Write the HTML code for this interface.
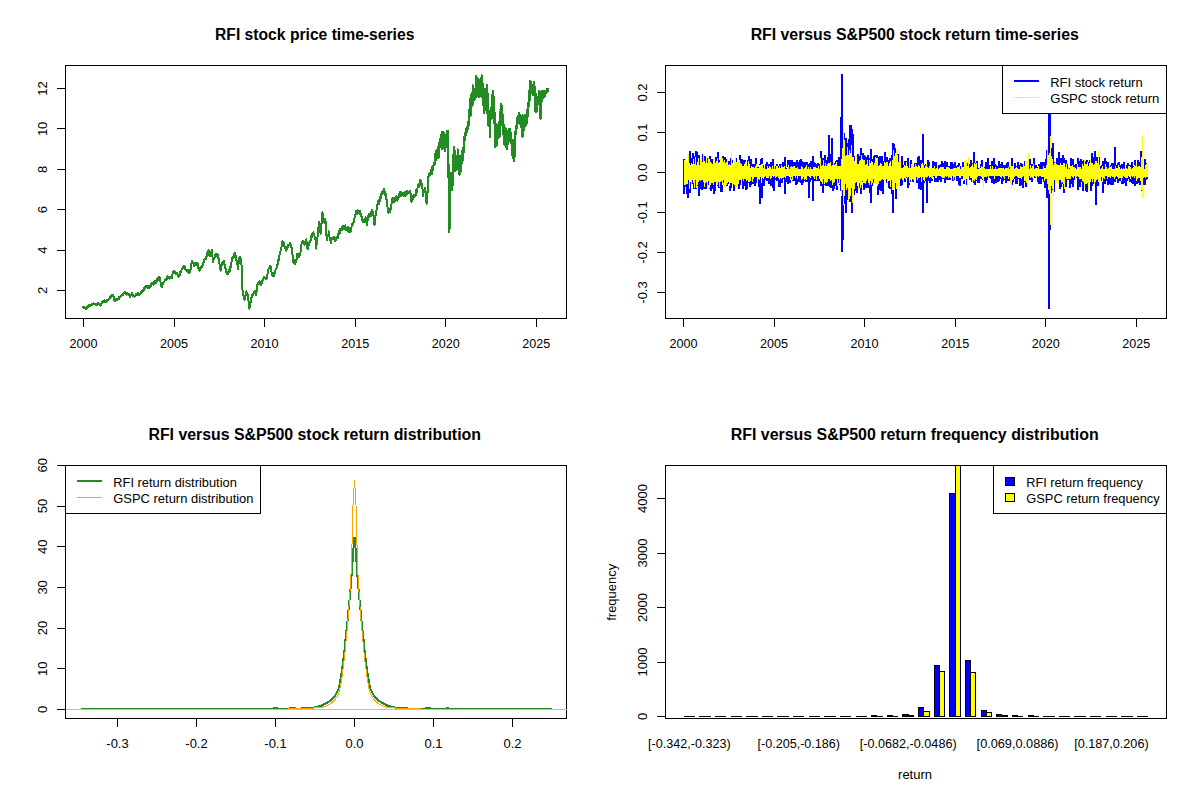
<!DOCTYPE html>
<html><head><meta charset="utf-8"><title>RFI plots</title>
<style>html,body{margin:0;padding:0;background:#fff;overflow:hidden}svg{display:block}text{font-family:"Liberation Sans",sans-serif}</style></head>
<body>
<svg width="1200" height="800" viewBox="0 0 1200 800" font-family="'Liberation Sans', sans-serif" fill="#000" shape-rendering="crispEdges">
<rect width="1200" height="800" fill="#fff"/>
<path d="M82.5 307.5L82.85 306.96L83.19 306.75L83.54 307.76L83.89 308.4L84.24 307.89L84.58 308.14L84.93 307.3L85.28 308.36L85.62 308.5L85.97 309.13L86.31 308.68L86.65 308.18L86.99 306.66L87.33 308L87.67 307.67L88.01 305.98L88.35 306.68L88.69 305.15L89.03 305.08L89.38 305.62L89.73 305.11L90.08 304.64L90.43 305.77L90.78 305.77L91.13 304.63L91.48 304.44L91.84 303.87L92.19 303.67L92.54 304.89L92.89 304.51L93.24 303.21L93.59 303.99L93.95 303.69L94.3 304.52L94.65 304.11L95 303.5L95.35 303.8L95.7 303.77L96.05 304.71L96.41 304.87L96.76 303.54L97.11 303.41L97.46 304.69L97.81 303.19L98.16 303.91L98.52 303.36L98.87 303.97L99.22 303.52L99.57 304.07L99.92 305.21L100.27 305.54L100.62 304.75L101 304.8L101.38 303.73L101.75 303.28L102.12 302.14L102.5 301.88L102.86 301.03L103.23 301.52L103.59 302.09L103.96 300.48L104.32 300.27L104.69 301.86L105.05 300.69L105.42 301.5L105.78 301.47L106.15 301.82L106.51 300.5L106.88 300.62L107.24 299.88L107.6 300.5L107.97 299.99L108.33 299.32L108.7 299.27L109.06 298.46L109.43 298.8L109.79 296.89L110.16 297.45L110.52 297.55L110.89 295.64L111.25 295.62L111.62 295.9L112 295.29L112.38 295.53L112.75 294.58L113.12 295.62L113.54 296.14L113.96 299.57L114.38 300.62L114.73 300.32L115.08 300.52L115.43 300.59L115.78 299.66L116.13 299.34L116.48 298.68L116.84 299.94L117.19 299.84L117.54 299.42L117.89 299.55L118.24 298.83L118.59 298.74L118.95 297.36L119.3 298.53L119.65 297.3L120 297.5L120.36 296.9L120.71 296.17L121.07 296.33L121.43 296.1L121.79 295.45L122.14 294.37L122.5 294.38L122.86 293.49L123.21 294.89L123.57 293.34L123.93 293.5L124.29 292.45L124.64 292.8L125 293.12L125.36 292.12L125.73 292.83L126.09 293.81L126.46 294.54L126.82 293.7L127.19 292.85L127.55 293.89L127.92 293.86L128.28 294.42L128.65 293.73L129.01 294.74L129.38 293.75L130 297.5L130.38 296.42L130.75 295.23L131.12 294.92L131.5 295.06L131.88 293.12L132.25 294.36L132.62 294.46L133 295.14L133.38 296.19L133.75 296.5L134.11 296.02L134.46 295.91L134.82 296.59L135.18 296.14L135.54 295.56L135.89 293.42L136.25 294L136.61 294.1L136.98 293.58L137.34 294.91L137.71 293.36L138.07 294.88L138.44 293.09L138.8 293.51L139.17 294.83L139.53 293.87L139.9 294.68L140.26 293.64L140.62 293.5L140.98 292.35L141.33 293.14L141.68 292.2L142.03 291.7L142.38 290.28L142.73 289.85L143.09 291.46L143.44 291.09L143.79 290.67L144.14 288.59L144.49 287.28L144.84 288.21L145.2 288.26L145.55 287.56L145.9 285.46L146.25 286.25L146.61 285.68L146.96 287.18L147.32 285.55L147.68 287.92L148.04 288.49L148.39 286.63L148.75 287.5L149.1 285.92L149.44 288.14L149.79 287.2L150.14 285.98L150.49 285.7L150.83 286.59L151.18 284.66L151.53 283.45L151.88 284.38L152.22 284.49L152.57 283.42L152.92 284.27L153.26 284.84L153.61 282.93L153.96 282.39L154.31 281.62L154.65 283.68L155 282.5L155.36 280.87L155.71 283.05L156.07 281.93L156.43 282.16L156.79 281.48L157.14 279.21L157.5 279.75L157.88 278.19L158.25 280.01L158.62 277.38L159 278.35L159.38 276.88L159.73 277.38L160.09 279.3L160.45 281.94L160.8 282.21L161.16 285.18L161.52 287.04L161.88 287.5L162.22 286.1L162.57 285.13L162.92 283.45L163.26 283.67L163.61 281.72L163.96 282.3L164.31 281.74L164.65 280.48L165 279.38L165.36 279.42L165.71 279.14L166.07 279.81L166.43 278.4L166.79 279.15L167.14 277.31L167.5 277.5L167.84 276.41L168.18 276.68L168.52 278.48L168.86 276.75L169.2 278.46L169.55 278.88L169.89 277.8L170.23 276.58L170.57 278.09L170.91 277.35L171.25 277.75L171.61 278.1L171.96 275.02L172.32 274.12L172.68 273.98L173.04 273.09L173.39 271.15L173.75 271.25L174.12 271.33L174.5 272.8L174.88 272.65L175.25 271.82L175.62 273.75L175.97 273.68L176.32 273.9L176.67 274.21L177.01 273.06L177.36 274.07L177.71 276.44L178.06 276.43L178.4 276.82L178.75 275.62L179.11 275.78L179.46 274.07L179.82 275.03L180.18 272.3L180.54 272.58L180.89 271.9L181.25 270.74L181.61 269.43L181.96 269.02L182.32 269.42L182.68 267.52L183.04 267.06L183.39 266.41L183.75 266.25L184.11 266.18L184.46 268.46L184.82 268.01L185.18 266.74L185.54 269.75L185.89 269.47L186.25 270L186.59 271.17L186.93 270.44L187.27 270.05L187.61 272.04L187.95 270.05L188.3 270.63L188.64 271.54L188.98 273.01L189.32 270.78L189.66 271.74L190 272.5L190.38 270.23L190.75 268.37L191.12 263.98L191.5 263.92L191.88 260.62L192.25 261.71L192.62 262.44L193 262.82L193.38 263.46L193.75 265L194.1 266.18L194.44 266.34L194.79 263.22L195.14 263.13L195.49 264.56L195.83 264.7L196.18 264.7L196.53 262.62L196.88 263.12L197.23 263.16L197.59 263.76L197.95 265.91L198.3 267.63L198.66 269.76L199.02 267.97L199.38 270.62L199.72 268.76L200.07 270.17L200.42 269.75L200.76 267.4L201.11 266.81L201.46 266.08L201.81 267.74L202.15 265.97L202.5 266.25L202.86 264.35L203.21 264.87L203.57 261.94L203.93 262.45L204.29 259.83L204.64 258.74L205 259.38L205.34 259.27L205.68 259.01L206.02 257.02L206.36 256.04L206.7 256.46L207.05 253.29L207.39 253.33L207.73 255.07L208.07 254.52L208.41 250.14L208.75 251.25L209.17 250.94L209.58 255.63L210 256.25L210.38 254.81L210.75 254.79L211.12 253.07L211.5 251.04L211.88 250L212.29 254.99L212.71 258.73L213.12 262.5L213.5 259.09L213.88 259.12L214.25 259.08L214.62 257.08L215 254.38L215.36 254.98L215.71 254.85L216.07 255.62L216.43 253.56L216.79 253.96L217.14 254.89L217.5 254.38L217.86 257.49L218.21 257.45L218.57 258.76L218.93 261.04L219.29 263.53L219.64 264.21L220 267.5L220.62 270.62L221.25 265L221.61 264.83L221.96 265.17L222.32 262.55L222.68 264.16L223.04 261.58L223.39 261.38L223.75 260.62L223.75 260.62L224.12 263.99L224.5 264.63L224.88 265.52L225.25 268.01L225.62 268.75L226.04 270.33L226.46 272.81L226.88 273.75L227.29 272.85L227.71 272.38L228.12 273.75L228.48 273.18L228.84 272.04L229.2 270.94L229.55 268.89L229.91 270.76L230.27 267.06L230.62 267.5L231 267.15L231.38 262.84L231.75 260.7L232.12 261.15L232.5 257.5L232.86 258.64L233.21 257.02L233.57 257.39L233.93 253.73L234.29 255.78L234.64 254.22L235 253.12L235.38 253.95L235.75 256.75L236.12 256.52L236.5 260.72L236.88 261.25L237.29 264.26L237.71 264.87L238.12 268.75L238.54 264.01L238.96 260.48L239.38 257.5L239.79 257.61L240.21 256.89L240.62 258.12L241.04 260.5L241.46 264.56L241.88 267.5L242.5 290L242.88 291.09L243.25 294.64L243.62 295.88L244 297.78L244.38 300L244.75 298.42L245.12 295.67L245.5 295.72L245.88 292.02L246.25 291.25L246.62 292.37L247 294.43L247.38 293.35L247.75 295.74L248.12 296.25L248.54 301.5L248.96 305.64L249.38 308.75L249.75 306.18L250.12 304.52L250.5 302.99L250.88 300.04L251.25 297.5L251.6 297.71L251.94 296.59L252.29 294.28L252.64 294.34L252.99 295.02L253.33 293.25L253.68 292.47L254.03 291.44L254.38 291.25L254.75 291.12L255.12 293.18L255.5 293.23L255.88 295.21L256.25 295L256.67 290.27L257.08 288.94L257.5 284.38L257.88 282.58L258.25 284.06L258.62 282.38L259 282.58L259.38 281.25L259.75 281.86L260.12 281.75L260.5 284.8L260.88 284.66L261.25 285L261.61 283.11L261.96 283.14L262.32 280.93L262.68 280.42L263.04 279.93L263.39 278.91L263.75 277.5L264.1 276.42L264.44 276.83L264.79 277.79L265.14 278.11L265.49 279.29L265.83 278.57L266.18 279.43L266.53 278.21L266.88 278.75L267.25 275.52L267.62 273.54L268 270.43L268.38 269.29L268.75 267.5L269.12 267.72L269.5 268.19L269.88 265.83L270.25 267.22L270.62 266.25L271.04 269.61L271.46 271.89L271.88 273.75L272.25 275.74L272.62 275.01L273 275.07L273.38 275.87L273.75 276.25L274.11 273.6L274.46 272.52L274.82 273.01L275.18 271.56L275.54 269.67L275.89 269.33L276.25 268.75L276.61 267.81L276.96 265.97L277.32 264.09L277.68 264.01L278.04 259.97L278.39 261.62L278.75 258.75L279.12 257.69L279.5 254.94L279.88 254.26L280.25 253.52L280.62 250L281 248.89L281.38 247.21L281.75 245.61L282.12 244.8L282.5 241.25L282.88 243.95L283.25 242.3L283.62 242.2L284 244.31L284.38 246.25L284.79 246.93L285.21 247.71L285.62 250L285.98 249.29L286.34 250.73L286.7 247.11L287.05 247.36L287.41 248.71L287.77 245.24L288.12 246.25L288.5 244.87L288.88 244.97L289.25 245.16L289.62 244.81L290 242.5L290.38 242.95L290.75 247.42L291.12 246.73L291.5 246.97L291.88 250L292.29 252.4L292.71 257.26L293.12 261.25L293.48 262.66L293.84 260.21L294.2 261.02L294.55 263.42L294.91 263.76L295.27 261.77L295.62 263.12L296 259.62L296.38 259.95L296.75 258.62L297.12 253.88L297.5 253.75L297.88 254.59L298.25 253.85L298.62 256.39L299 255.26L299.38 257.5L299.75 253.82L300.12 253.16L300.5 252.56L300.88 246.55L301.25 246.25L301.67 242.87L302.08 241.62L302.5 241.25L302.86 242.99L303.21 240.83L303.57 241.33L303.93 242.37L304.29 244.58L304.64 242.44L305 243.75L305.42 242.17L305.83 240.72L306.25 239.38L306.67 242.71L307.08 245.81L307.5 249.38L307.86 249.48L308.21 245.8L308.57 245.91L308.93 243.16L309.29 245.17L309.64 242.08L310 241.25L310.38 242.21L310.75 239.48L311.12 236.16L311.5 238.19L311.88 235L312.25 233.79L312.62 235.14L313 235.48L313.38 232.15L313.75 233.75L314.12 233.54L314.5 235.91L314.88 236.86L315.25 237.92L315.62 240L316.25 248.75L316.62 244.02L317 240.64L317.38 239.68L317.75 233.56L318.12 230L318.54 227.09L318.96 223.34L319.38 221.88L319.79 224.3L320.21 228.63L320.62 233.75L321 231.36L321.38 227.17L321.75 219.32L322.12 216.21L322.5 212.5L323.12 221.25L323.48 221.66L323.84 221.52L324.2 219.72L324.55 219.01L324.91 222.77L325.27 219.36L325.62 221.25L326.04 227L326.46 234.97L326.88 240L327.25 239.08L327.62 236.08L328 236.13L328.38 235.31L328.75 231.25L329.12 233.28L329.5 237.27L329.88 237.72L330.25 239.25L330.62 241.88L330.98 243.4L331.34 241.83L331.7 238.38L332.05 239.56L332.41 238.21L332.77 238.1L333.12 237.5L333.47 238.93L333.82 237.32L334.17 238.79L334.51 237.44L334.86 238.63L335.21 240.91L335.56 240.5L335.9 239.11L336.25 240L336.61 238.03L336.96 238.5L337.32 236.94L337.68 238.3L338.04 234.15L338.39 236.06L338.75 233.12L339.11 231.25L339.46 233.3L339.82 232.99L340.18 229.14L340.54 229.73L340.89 230.39L341.25 228.75L341.59 228.21L341.93 226.62L342.27 229.71L342.61 228.23L342.95 226.65L343.3 225.89L343.64 228.06L343.98 226.83L344.32 229.26L344.66 225.94L345 227.5L345.36 225.32L345.71 229.84L346.07 227.64L346.43 229.93L346.79 228.73L347.14 230.42L347.5 230.87L347.86 226.92L348.21 228.04L348.57 227.76L348.93 231.66L349.29 230.58L349.64 231.87L350 230L350.62 231.88L351.04 231.51L351.46 227.89L351.88 223.75L352.25 225.13L352.62 224.98L353 222.8L353.38 223.38L353.75 221.25L354.12 222.08L354.5 217.85L354.88 214.88L355.25 215.63L355.62 213.12L355.98 210.63L356.34 211.92L356.7 212.19L357.05 214.42L357.41 210.1L357.77 211.62L358.12 212.5L358.5 211.2L358.88 212.88L359.25 213.79L359.62 211.39L360 211.25L360.38 214.61L360.75 213.83L361.12 215.76L361.5 216.31L361.88 218.75L362.23 217.71L362.59 221.84L362.95 220.88L363.3 219.71L363.66 221.63L364.02 221.48L364.38 222.5L364.79 218.46L365.21 220.19L365.62 217.5L366.04 221.9L366.46 223.05L366.88 225L367.25 221.22L367.62 220.59L368 217.46L368.38 215.27L368.75 215L369.11 213.72L369.46 216.76L369.82 216.3L370.18 215.86L370.54 216.4L370.89 211.82L371.25 213.75L371.62 211.86L372 210.53L372.38 209.94L372.75 213.02L373.12 211.88L373.54 215.77L373.96 220.96L374.38 225L374.79 223.55L375.21 217.22L375.62 215L376 211.37L376.38 212.26L376.75 205.6L377.12 208.41L377.5 203.75L377.86 202.51L378.21 200.35L378.57 201.04L378.93 199.9L379.29 203.96L379.64 199.03L380 201.25L380.38 196.75L380.75 198.18L381.12 193.88L381.5 192.74L381.88 191.88L382.23 193.64L382.59 191.42L382.95 193.29L383.3 190.53L383.66 189.6L384.02 189.22L384.38 191.88L384.73 195.1L385.09 191.9L385.45 192.82L385.8 194.46L386.16 197.81L386.52 199.95L386.88 200L387.29 204.13L387.71 209.01L388.12 212.5L388.48 211.95L388.84 212.76L389.2 211.46L389.55 208.58L389.91 208.92L390.27 212.02L390.62 208.75L391.04 205.96L391.46 204.77L391.88 201.25L392.22 199.06L392.57 201.72L392.92 201.58L393.26 198.15L393.61 202.45L393.96 198.96L394.31 198.4L394.65 200.08L395 198.75L395.35 201.23L395.69 200.75L396.04 199.12L396.39 196.12L396.74 198.67L397.08 199.46L397.43 200.74L397.78 196.99L398.12 198.75L398.5 197.55L398.88 197.59L399.25 196.88L399.62 192L400 193.75L400.36 196.13L400.71 191.58L401.07 196.17L401.43 196.32L401.79 194.88L402.14 194.53L402.5 194.38L402.86 193.24L403.21 193.25L403.57 196.27L403.93 194.44L404.29 193.04L404.64 192.17L405 195.84L405.36 195.26L405.71 194.97L406.07 194.76L406.43 191.04L406.79 193.75L407.14 192.64L407.5 191.25L407.86 193.71L408.21 192.53L408.57 193.04L408.93 192.75L409.29 191.29L409.64 191.93L410 190.62L410.42 191.38L410.83 196.6L411.25 200.62L411.61 201.96L411.96 197.34L412.32 198.28L412.68 199.59L413.04 198.1L413.39 195.41L413.75 197.5L414.11 194.59L414.48 196.62L414.84 194.98L415.21 194.29L415.57 195.3L415.94 194.54L416.3 189.66L416.67 192.4L417.03 189.21L417.4 189.02L417.76 184.67L418.12 186.25L418.48 184.73L418.84 187.34L419.2 186.4L419.55 182.13L419.91 180.13L420.27 183.9L420.62 180L421.04 181.26L421.46 185.4L421.88 183.75L422.29 184.99L422.71 192.66L423.12 196.25L423.5 193.18L423.88 189.71L424.25 190.93L424.62 192.05L425 187.5L425.38 190.49L425.75 192.26L426.12 198.44L426.5 202.7L426.88 203.75L427.31 197.19L427.75 187.5L428.25 178.99L428.75 173.75L429.15 175.76L429.55 173.99L429.9 175.53L430.24 173.03L430.58 174.7L430.93 169.44L431.27 170.25L431.62 171.15L431.96 174.52L430 173.76L430 175.4L430.5 172.79L430.5 172.28L431 171.05L431 173.76L431.5 170.82L431.5 170.41L432 166.37L432 170.5L432.5 171.38L432.5 165.6L433 165.49L433 168.88L433.5 164.81L433.5 162.69L434 162.64L434 164.68L434.5 165.4L434.5 157.82L435 154.16L435 160.79L435.5 160.91L435.5 152.11L436 151.05L436 157.97L436.5 157.33L436.5 150.25L437 150.64L437 156.69L437.5 153.76L437.5 149.11L438 147.07L438 157.77L438.5 157.89L438.5 143.13L439 144.07L439 156.53L439.5 145.59L439.5 139.07L440 139.14L440 144.55L440.5 145.66L440.5 136.94L441 135.22L441 147.04L441.5 144.64L441.5 134.77L442 131.7L442 148.72L442.5 147.7L442.5 131.7L443 131.7L443 143.12L443.5 143.37L443.5 131.7L444 139.65L444 146.2L444.5 148.46L444.5 141.59L445 140.96L445 151.15L445.5 148.13L445.5 142.38L446 135.29L446 141.61L446.5 141.85L446.5 132.84L447 130.5L447 145.58L447.5 140.35L447.5 130.5L448 130.5L448 144.07L448.5 178.32L448.5 163.89L449 187.49L449 231.7L449.5 228.96L449.5 186.17L450 183.01L450 197.34L450.5 187.83L450.5 182.05L451 172.94L451 189.67L451.5 189.45L451.5 180.16L452 175.41L452 190.14L452.5 185.51L452.5 159.5L453 155.28L453 175.16L453.5 172.02L453.5 159.74L454 147.04L454 170.6L454.5 168.32L454.5 149.71L455 161.77L455 162.39L455.5 171.4L455.5 157.32L456 155.95L456 165.69L456.5 169.27L456.5 157.35L457 158.82L457 160.32L457.5 164.21L457.5 148.6L458 152.79L458 165.59L458.5 169.65L458.5 156.59L459 155.77L459 167.45L459.5 175.4L459.5 165.58L460 160.52L460 172.36L460.5 171.57L460.5 156.06L461 160.49L461 169.57L461.5 163.66L461.5 150.9L462 154.05L462 163.14L462.5 160.55L462.5 147.69L463 151.76L463 158.36L463.5 152.67L463.5 142.95L464 137.03L464 147.25L464.5 138.56L464.5 133.22L465 134.12L465 139.8L465.5 135.57L465.5 129.36L466 130.35L466 132.2L466.5 133L466.5 129.87L467 127.03L467 129L467.5 129.18L467.5 126.1L468 121.74L468 129.37L468.5 126.12L468.5 116.05L469 109.94L469 116.68L469.5 113.3L469.5 103.01L470 99.28L470 113.35L470.5 116.24L470.5 103.75L471 94.8L471 103.01L471.5 101.9L471.5 98.23L472 92.59L472 105.73L472.5 104.35L472.5 85.47L473 95.62L473 104.32L473.5 98.3L473.5 98.12L474 97.37L474 98.76L474.5 99.54L474.5 90.76L475 88.87L475 95.4L475.5 97.3L475.5 80.78L476 75.97L476 96.81L476.5 96.55L476.5 82.64L477 83.44L477 93.95L477.5 92.57L477.5 78.44L478 84.96L478 86.93L478.5 97.11L478.5 78.92L479 80.05L479 97.28L479.5 97.24L479.5 80.79L480 80.26L480 95.41L480.5 95.71L480.5 78.11L481 80.11L481 84.92L481.5 94.29L481.5 75.01L482 82.19L482 91.38L482.5 97.69L482.5 82.83L483 95.36L483 103.5L483.5 105.73L483.5 92.85L484 100L484 113.36L484.5 111.46L484.5 89.47L485 98.14L485 107.66L485.5 107.46L485.5 92.22L486 89.08L486 106.29L486.5 100.89L486.5 85.47L487 85.22L487 108.77L487.5 113.98L487.5 92.84L488 101.83L488 125.25L488.5 118.22L488.5 116.13L489 114.29L489 123.41L489.5 126.55L489.5 110.71L490 120.68L490 136.78L490.5 120.19L490.5 112.38L491 107.74L491 118.97L491.5 114.12L491.5 107.56L492 94.49L492 118.02L492.5 116.88L492.5 91.35L493 90.56L493 110.78L493.5 113.84L493.5 96.27L494 103.13L494 120.96L494.5 124.15L494.5 111.59L495 128.61L495 147.4L495.5 138.96L495.5 128.04L496 130.3L496 141.42L496.5 146.37L496.5 124.31L497 126.1L497 145.16L497.5 134.91L497.5 128.6L498 128.67L498 138.58L498.5 133.78L498.5 128.86L499 121.9L499 133.09L499.5 137.11L499.5 112.4L500 119.18L500 120.7L500.5 125.76L500.5 109.61L501 103.85L501 119.2L501.5 119.3L501.5 105.33L502 114.68L502 125.01L502.5 120.06L502.5 114.05L503 125.12L503 130.88L503.5 134.75L503.5 124.49L504 131.62L504 140.83L504.5 144.36L504.5 129.58L505 135.63L505 142.69L505.5 145.75L505.5 128.44L506 133.67L506 147.17L506.5 142.24L506.5 136.78L507 130.94L507 148.82L507.5 145.46L507.5 134.9L508 130.91L508 138.51L508.5 141.22L508.5 129.08L509 128.6L509 135.14L509.5 140.73L509.5 128.6L510 128.6L510 136.94L510.5 141.27L510.5 132.35L511 135.63L511 140.74L511.5 143.96L511.5 138.77L512 145.7L512 146.24L512.5 156.31L512.5 145.03L513 144.67L513 158.45L513.5 158.08L513.5 139.78L514 147.96L514 161.4L514.5 156.54L514.5 138.8L515 131.49L515 146.31L515.5 134.9L515.5 129.82L516 125.59L516 129.23L516.5 129.06L516.5 119.18L517 117.9L517 128.24L517.5 120.76L517.5 117.26L518 115.54L518 120L518.5 121.99L518.5 112.85L519 112.85L519 122.25L519.5 123.75L519.5 113.96L520 119.04L520 123.81L520.5 123.16L520.5 116.59L521 116.09L521 126.22L521.5 127.95L521.5 116.64L522 115.64L522 132.96L522.5 136.78L522.5 115.47L523 120.18L523 130.87L523.5 130.51L523.5 120.37L524 116.21L524 126.96L524.5 126.82L524.5 116.79L525 114.99L525 124.6L525.5 124.33L525.5 115.75L526 117.75L526 125.25L526.5 118.01L526.5 111.8L527 110L527 123.15L527.5 116.62L527.5 103.21L528 103.64L528 108.99L528.5 107.23L528.5 91.34L529 93.43L529 101.42L529.5 100.77L529.5 91.21L530 80.79L530 96.04L530.5 90.94L530.5 80.54L531 84.88L531 90.52L531.5 91.03L531.5 84.36L532 89.86L532 91.8L532.5 94.2L532.5 88.53L533 90.56L533 94.68L533.5 93.88L533.5 83.6L534 81.72L534 88.88L534.5 93.65L534.5 85.93L535 95.72L535 106.09L535.5 111.78L535.5 93.8L536 93.88L536 111.78L536.5 111.78L536.5 101.75L537 100.52L537 106.47L537.5 105.1L537.5 98.04L538 97.26L538 100.65L538.5 104.24L538.5 92.4L539 90.56L539 104.24L539.5 102.99L539.5 90.72L540 100.72L540 111.26L540.5 118.82L540.5 97.01L541 99.93L541 106.35L541.5 101.6L541.5 91.1L542 91.1L542 99.82L542.5 98.14L542.5 91.1L543 91.35L543 98.2L543.5 97.73L543.5 91.11L544 90.99L544 94.63L544.5 95.32L544.5 93.42L545 93.19L545 95.98L545.5 94.21L545.5 91.38L546 91.08L546 92.29L546.5 91.48L546.5 91.48L547 88.77L547 92.34L547.5 90.56L547.5 88.6L548 88.6L548 92.24" fill="none" stroke="#228B22" stroke-width="2" stroke-linejoin="round"/>
<rect x="65.5" y="65.5" width="501" height="253" fill="none" stroke="#000"/>
<path d="M83.5 318.5H536.25" stroke="#000" stroke-width="1"/>
<path d="M83.5 318.5v8.5M174.05 318.5v8.5M264.6 318.5v8.5M355.15 318.5v8.5M445.7 318.5v8.5M536.25 318.5v8.5" stroke="#000"/>
<text x="83.5" y="348" font-size="13.6" text-anchor="middle" textLength="28" lengthAdjust="spacingAndGlyphs">2000</text>
<text x="174.05" y="348" font-size="13.6" text-anchor="middle" textLength="28" lengthAdjust="spacingAndGlyphs">2005</text>
<text x="264.6" y="348" font-size="13.6" text-anchor="middle" textLength="28" lengthAdjust="spacingAndGlyphs">2010</text>
<text x="355.15" y="348" font-size="13.6" text-anchor="middle" textLength="28" lengthAdjust="spacingAndGlyphs">2015</text>
<text x="445.7" y="348" font-size="13.6" text-anchor="middle" textLength="28" lengthAdjust="spacingAndGlyphs">2020</text>
<text x="536.25" y="348" font-size="13.6" text-anchor="middle" textLength="28" lengthAdjust="spacingAndGlyphs">2025</text>
<path d="M65.5 290.5h-8.5M65.5 250.1h-8.5M65.5 209.7h-8.5M65.5 169.3h-8.5M65.5 128.9h-8.5M65.5 88.5h-8.5" stroke="#000"/>
<text x="47" y="290.5" font-size="13.6" text-anchor="middle" transform="rotate(-90 47 290.5)" textLength="7.2" lengthAdjust="spacingAndGlyphs">2</text>
<text x="47" y="250.1" font-size="13.6" text-anchor="middle" transform="rotate(-90 47 250.1)" textLength="7.2" lengthAdjust="spacingAndGlyphs">4</text>
<text x="47" y="209.7" font-size="13.6" text-anchor="middle" transform="rotate(-90 47 209.7)" textLength="7.2" lengthAdjust="spacingAndGlyphs">6</text>
<text x="47" y="169.3" font-size="13.6" text-anchor="middle" transform="rotate(-90 47 169.3)" textLength="7.2" lengthAdjust="spacingAndGlyphs">8</text>
<text x="47" y="128.9" font-size="13.6" text-anchor="middle" transform="rotate(-90 47 128.9)" textLength="14.4" lengthAdjust="spacingAndGlyphs">10</text>
<text x="47" y="88.5" font-size="13.6" text-anchor="middle" transform="rotate(-90 47 88.5)" textLength="14.4" lengthAdjust="spacingAndGlyphs">12</text>
<text x="314.7" y="40" font-size="16" text-anchor="middle" font-weight="bold" textLength="199.3" lengthAdjust="spacingAndGlyphs">RFI stock price time-series</text>
<path d="M684 159.15V193.52M685 163.65V187.31M686 164.21V182.26M687 165.74V194.31M688 162.04V197.5M689 162.41V179.77M690 151V193M691 159.1V182.47M692 157.76V184.38M693 152.6V179.26M694 163.38V189.29M695 156V187.35M696 150.74V189.15M697 151.59V183.62M698 165.74V185.68M699 155.14V195.84M700 163.25V188.04M701 165.17V189M702 162.7V189.62M703 153.73V186.56M704 155.94V189M705 155.62V179.26M706 159.58V188.8M707 164.94V185.98M708 158.38V185.33M709 161.49V184.2M710 156.44V188.82M711 160.98V190.8M712 158.88V188.96M713 163.6V179.26M714 165.74V194M715 164.65V191.23M716 157.48V181.52M717 156.7V181.36M718 152.05V186.1M719 165.06V187.5M720 159.69V180.78M721 158.9V192.12M722 160.62V191.52M723 156.18V179.26M724 163.01V182.92M725 156.74V186.1M726 159.12V179.26M727 164.64V185.71M728 160.64V184.35M729 164.95V183.05M730 161.01V191M731 157.95V187.88M732 160.05V182.72M733 165.74V179.26M734 165.74V191.16M735 164.25V184.26M736 157.68V183.12M737 163.65V179.86M738 165.29V186.22M739 161.22V189.04M740 155.41V185.15M741 163.05V178.55M742 159.47V180M743 163.21V188.68M744 159.6V185.75M745 159.54V183.57M746 163.86V189.72M747 164.76V188.67M748 160.12V182.95M749 156.03V182.18M750 167.44V186.74M751 158.64V185.29M752 167.44V183.65M753 164.41V183.91M754 164.58V180.95M755 163.91V186.34M756 158.07V182.91M757 167.44V178.72M758 167.44V178.26M759 166.51V186.75M760 164.09V203.75M761 159.16V181.37M762 158.06V197.5M763 164.75V180.79M764 165.72V185.85M765 167.21V177.3M766 163.72V180.13M767 161.62V180.69M768 166.01V179.34M769 163.82V183.91M770 167.8V180.31M771 162.4V185.6M772 166.25V182.04M773 159V188.08M774 167.58V191M775 166.18V178.01M776 165.98V180.49M777 163.96V181.24M778 166.02V177.01M779 165.59V187.31M780 163.78V186.73M781 163.85V179.39M782 166.23V183.14M783 162.33V179.25M784 165.9V179.24M785 157.05V194M786 167.99V178.65M787 167.99V181.62M788 160V183.76M789 159.56V177.01M790 159.71V182.69M791 163.64V179.19M792 160V177.01M793 162.1V180.84M794 163.03V178.9M795 161.92V181.35M796 164.7V185.44M797 160V184M798 162.25V177.93M799 165.17V182.41M800 159.8V178.36M801 159.48V183.29M802 161.45V185.12M803 162.45V183M804 165.41V178.52M805 161.52V180.98M806 167.95V181.94M807 161.67V182.47M808 164.48V181.88M809 165.96V198M810 162.86V181.63M811 161.03V179.66M812 165.83V180.48M813 156V200.6M814 161.74V181.24M815 163.35V181.16M816 164.19V177.01M817 165.38V180.68M818 162.87V180.61M819 164.2V179.57M820 164.04V180.67M821 150.6V186.14M822 165.88V181.83M823 158.36V192.52M824 158.79V182.03M825 155.03V184.62M826 159.64V185.65M827 163.83V178.82M828 157.49V185.77M829 135V184.99M830 153.95V187.49M831 162.18V188.29M832 138V186.62M833 166.18V191.19M834 163.15V188.75M835 166.18V186.48M836 161.45V182.5M837 160.24V189.9M838 160.02V182.91M839 157.07V181.82M840 158.23V184.52M841 117V191.08M842 74V252M843 157.32V240M844 133V203.86M845 152.98V202.37M846 137.5V212.5M847 157.18V190.49M848 142.7V199.74M849 138.65V202M850 125V201.94M851 124.82V192.53M852 129V213M853 134V187.35M854 156.4V195.41M855 163.97V190.73M856 163.97V185.64M857 158.11V193M858 153.64V186.75M859 156.48V188.14M860 163.97V187.98M861 147.57V194M862 153.44V181.96M863 152.93V181.03M864 154.71V189.91M865 156.49V187.54M866 163.02V187.5M867 156.75V179.1M868 154.78V187.6M869 161.5V179.22M870 158.42V193.11M871 149V203M872 159.02V185.59M873 163V179.1M874 155.69V182.9M875 155.46V180.61M876 157.12V180.71M877 155.03V183.69M878 160.37V194.84M879 157.12V188.45M880 155.83V190.17M881 162.4V191.38M882 155.6V179.1M883 162.16V194M884 160.87V179.1M885 151.96V179.1M886 158.87V180.82M887 157.19V183.09M888 165.74V181.59M889 159.8V188M890 158.14V189.48M891 163.27V185.62M892 155.35V193.62M893 143V213M894 144V180.2M895 147.88V186.78M896 164.8V199M897 160.1V188.81M898 154V180.56M899 159.15V180.2M900 164.81V184.94M901 162.21V185.96M902 155.6V184.96M903 164.64V180.93M904 165.94V177.72M905 161.23V181.79M906 167.28V177.72M907 161.22V177.72M908 158.03V188M909 161.98V185.31M910 167.28V181.54M911 160.25V177.72M912 163.88V179.7M913 166.75V182.41M914 167.28V177.72M915 162.51V177.72M916 167.28V178.31M917 162.92V182.63M918 156.8V179.48M919 155.6V189M920 160.31V181.76M921 163.55V190.29M922 159.75V187.28M923 134.4V212.5M924 167.28V182.71M925 164.77V180.96M926 163.6V177.72M927 166.91V203M928 160V179.39M929 162.12V180.96M930 167.66V183.18M931 168.38V176.62M932 168.38V181.01M933 160.6V176.62M934 166.58V177.32M935 162.37V181.88M936 161.54V181.12M937 166.98V181.54M938 168.38V182.24M939 164.55V178.18M940 166.4V179.78M941 164.04V181.86M942 161.43V177.72M943 162.54V178.51M944 167.98V179.13M945 161.17V182.85M946 165.45V179.62M947 161.89V178.49M948 166.41V180.21M949 167.25V176.62M950 165.96V180.04M951 162.23V177.44M952 162.02V177.73M953 163.58V180.7M954 165.39V179.76M955 161.91V179.61M956 166.45V176.62M957 166.59V180.79M958 165.43V176.62M959 163.19V185.46M960 168.38V185.71M961 166.33V179.31M962 168.31V179.14M963 161.59V178.77M964 163.01V184.04M965 164.06V179.99M966 165.97V178.59M967 164.18V184.92M968 163.16V177.61M969 164.16V177.97M970 166.58V179.77M971 160.29V179.8M972 167.32V181.53M973 163.06V180.94M974 152V182.59M975 162.65V185.1M976 168.1V180.62M977 161V177.4M978 168.37V183M979 168.38V182.71M980 168.38V178.56M981 163.79V176.71M982 160V178.71M983 167V180.35M984 167.31V178.57M985 166.8V180.97M986 162.43V182.78M987 164.41V179.61M988 158V176.62M989 168.38V177.57M990 164.71V176.62M991 167.89V178.65M992 161V183.37M993 162.12V182.14M994 158.28V183.86M995 163.51V180.96M996 165.16V183.12M997 168.38V182.48M998 166.24V181.92M999 161.07V181.41M1000 165.84V179.32M1001 163.75V179.3M1002 161.67V183.86M1003 164.5V180.58M1004 166.3V180.42M1005 164.86V179.09M1006 166.94V182.57M1007 163.09V181.38M1008 162.04V177.3M1009 167.46V180.71M1010 168.1V176.9M1011 163.04V179.79M1012 157.51V185.06M1013 168.1V182.28M1014 165.5V178.5M1015 162.66V177.15M1016 166.15V184.11M1017 166.65V183.79M1018 161.86V178.82M1019 168.38V178.8M1020 165.17V185.71M1021 163.26V179.56M1022 163.52V184.51M1023 164.04V188M1024 164.63V182.39M1025 161.31V176.9M1026 165.36V187.08M1027 165.05V181.29M1028 164.28V177.99M1029 167.81V177.92M1030 158.64V179.58M1031 163.98V176.92M1032 167.21V182.42M1033 164.16V176.62M1034 157.5V176.8M1035 164.64V177.68M1036 165.48V176.69M1037 166.98V176.62M1038 166.95V181.62M1039 163.91V184.1M1040 164.06V184.18M1041 162.22V183.8M1042 162.25V179.47M1043 162.32V176.62M1044 167.55V182.35M1045 161.85V188.05M1046 158.7V185.93M1047 150.15V198.01M1048 161.06V198M1049 113V309M1050 113V230M1051 158.79V192.81M1052 148.31V189.95M1053 143V182.88M1054 161.55V191.64M1055 164.43V180.2M1056 160.9V180.2M1057 157.5V182.35M1058 160.82V181.2M1059 151.85V180.2M1060 160.7V188.72M1061 157.87V187.3M1062 164.8V183.6M1063 155.45V180.2M1064 158.07V192.5M1065 163.66V177.45M1066 159.98V186.98M1067 164.27V179.03M1068 167.55V180.22M1069 167.55V177.45M1070 167.53V187.5M1071 157.58V181.19M1072 161.63V184.46M1073 158.94V187.33M1074 164.64V180.37M1075 167.55V180.43M1076 164.29V177.9M1077 167.11V177.45M1078 158.12V189.6M1079 161.28V178.23M1080 167.55V187.17M1081 159.12V177.45M1082 160.5V182.05M1083 165.63V190.6M1084 160.32V178.28M1085 161.21V179.59M1086 162.38V191M1087 160.22V192.45M1088 165.24V181.93M1089 161.75V182.19M1090 159.82V178.28M1091 162.15V190.72M1092 153V186.4M1093 166.72V183.79M1094 157.01V184.29M1095 151V178.28M1096 162.23V205M1097 157.09V182.28M1098 161.77V185.63M1099 157.04V182.44M1100 166.31V177.06M1101 167.84V177.06M1102 164.95V180.79M1103 160.56V193M1104 167.35V180.79M1105 157.77V184.11M1106 161.47V180.49M1107 164.3V180.54M1108 161.84V184.89M1109 167.67V183.68M1110 166.3V181.18M1111 164.9V184.65M1112 163.17V181.15M1113 163.33V184.9M1114 164.76V179.47M1115 147V182.4M1116 167.08V178.54M1117 165.07V177.06M1118 163.4V182.53M1119 162.03V180.95M1120 164.72V181.11M1121 166.75V179.42M1122 163.64V184.27M1123 164.88V184.13M1124 161.7V181.17M1125 166.84V183.35M1126 166.84V185.51M1127 164.7V181.31M1128 162.78V177.06M1129 165.65V178.93M1130 165.27V182.14M1131 165.24V179.02M1132 161.85V182.72M1133 167.94V183.79M1134 165.69V180.7M1135 160.25V186.3M1136 167.55V180.7M1137 167.49V184.39M1138 159.95V182.24M1139 163.02V182.77M1140 161.72V184.85M1141 151V182.27M1142 162.16V190.51M1143 167.37V184.86M1144 168.1V181.12M1145 158.91V184.8M1146 163.12V179.54M1147 168.1V179.3" stroke="#0000FF" stroke-width="2"/>
<path d="M684.5 159.52V184.97M685.5 158V185.02M686.5 162.15V183.69M687.5 161.72V183.99M688.5 154V180.42M689.5 163.26V188.68M690.5 164.58V182.36M691.5 162.76V186.23M692.5 164.04V180.42M693.5 159.28V182.91M694.5 163.89V187.76M695.5 157.18V180.42M696.5 164.58V188.19M697.5 162.06V184.81M698.5 158.32V181.75M699.5 164.58V180.42M700.5 160.16V180.52M701.5 155.8V180.42M702.5 162.33V180.42M703.5 153V182.3M704.5 160.55V186.55M705.5 163.01V182.51M706.5 157.49V182.13M707.5 163.33V189.4M708.5 158.03V181.49M709.5 159.16V188M710.5 162.06V184.93M711.5 163.39V183.45M712.5 163.72V182.93M713.5 157.71V185.2M714.5 159.48V181.66M715.5 162.94V182.44M716.5 161.28V184.19M717.5 157.77V184.77M718.5 163.13V181.86M719.5 161.6V186.57M720.5 158.01V182.16M721.5 157.21V181.15M722.5 158.18V185.35M723.5 162.44V180.42M724.5 159.93V187.38M725.5 162.73V187.69M726.5 161.81V185.05M727.5 156.61V182.51M728.5 164.58V181.74M729.5 164.39V186.48M730.5 164.58V183.19M731.5 150.6V182.91M732.5 163.14V184.99M733.5 163.38V184.21M734.5 161.42V185.2M735.5 155.65V189.49M736.5 162.07V187.7M737.5 162.17V186.31M738.5 160.5V183.7M739.5 159.84V180.42M740.5 162.88V180.28M741.5 164.41V182.83M742.5 166.02V178.98M743.5 166.02V181.23M744.5 164.07V178.98M745.5 162.34V178.98M746.5 164.03V181.21M747.5 166.02V179.83M748.5 161.32V182.44M749.5 164.05V182.08M750.5 168.04V180.73M751.5 166.01V177.43M752.5 166.82V181.87M753.5 167.12V179.45M754.5 168.04V177.3M755.5 165.84V176.96M756.5 164.25V176.96M757.5 168.04V179.14M758.5 168.04V178.9M759.5 164.85V180.25M760.5 164.7V177.07M761.5 163.93V182.94M762.5 164.02V178.09M763.5 168.04V179.15M764.5 165.7V176.96M765.5 168.73V176.31M766.5 169.04V177.92M767.5 166V177.91M768.5 167.71V178.06M769.5 166.03V175.96M770.5 167.06V178.61M771.5 169.04V177.83M772.5 166.41V176.31M773.5 168.81V176.55M774.5 166.27V176.3M775.5 169.04V178.37M776.5 165.73V177.07M777.5 165.86V175.96M778.5 167.68V178.22M779.5 166.27V180.15M780.5 168.43V177.93M781.5 165.25V179.27M782.5 167.48V177.61M783.5 167.33V177.83M784.5 166.34V177.45M785.5 168.67V177.83M786.5 168.96V176.21M787.5 167.48V176.13M788.5 165.36V175.96M789.5 168.9V176.72M790.5 166.86V179.56M791.5 165.57V176.97M792.5 167.48V180.01M793.5 165.94V175.96M794.5 165.7V176.07M795.5 167.68V178.3M796.5 168.01V175.96M797.5 166.97V179.32M798.5 169.04V175.96M799.5 169.04V175.98M800.5 168.78V175.96M801.5 166.41V179.69M802.5 167.18V178.56M803.5 169.04V176.98M804.5 167.77V179.91M805.5 167.23V179.33M806.5 165.31V179.89M807.5 169.04V176.24M808.5 167.13V175.96M809.5 168.85V176.94M810.5 167.48V178.33M811.5 169.04V176.26M812.5 169.04V176.16M813.5 166.97V177.05M814.5 167.39V178.82M815.5 166.68V176.49M816.5 168.32V179.51M817.5 168.32V175.96M818.5 166.13V176.01M819.5 168.55V178.86M820.5 157.54V180.82M821.5 166.38V181.9M822.5 165.46V184.45M823.5 159.71V179.26M824.5 165.6V184.07M825.5 163.13V181.76M826.5 166.38V182.58M827.5 164.35V181.7M828.5 163.24V179.31M829.5 163.25V179.1M830.5 162.26V181.24M831.5 166.38V179.82M832.5 164.8V184.62M833.5 163.2V183.39M834.5 164.85V181.64M835.5 163.7V178.62M836.5 161.92V179.25M837.5 166.26V185.78M838.5 166.38V178.62M839.5 165.62V183.7M840.5 166.38V178.62M841.5 158.73V196.11M842.5 147.8V190.25M843.5 128V205M844.5 140V196M845.5 156.22V184.37M846.5 155.33V190M847.5 147.37V187.62M848.5 155.17V202.46M849.5 150.15V199.36M850.5 153V196.06M851.5 145V187.62M852.5 157.38V202.86M853.5 157.38V196.57M854.5 161.46V189.25M855.5 161.97V182.9M856.5 155.42V182.27M857.5 163.86V185.59M858.5 163.86V190.19M859.5 161.11V182.52M860.5 159.79V188.24M861.5 154.5V184.99M862.5 159.07V181.28M863.5 160.17V183.17M864.5 159.72V182.88M865.5 165.46V183.7M866.5 163.58V181.43M867.5 159.85V178.98M868.5 166.02V182.7M869.5 159.96V184.8M870.5 162.81V181.04M871.5 161.02V184.85M872.5 161.85V182.5M873.5 164.56V178.98M874.5 162.5V183.9M875.5 157.25V184.37M876.5 157.63V183.66M877.5 157.94V185.89M878.5 166.02V184.24M879.5 165.11V180.81M880.5 163.39V181.03M881.5 163.71V180.19M882.5 166.02V178.98M883.5 166.02V180.37M884.5 161.56V178.98M885.5 163.42V180.51M886.5 162.04V178.98M887.5 162.48V184.28M888.5 165.57V181.21M889.5 162.92V181.05M890.5 160.87V187.22M891.5 166.02V179.61M892.5 159.75V189.63M893.5 150V190M894.5 155.74V187.11M895.5 153.33V183.3M896.5 149.89V189.36M897.5 154.68V189.56M898.5 161.7V185.18M899.5 150.25V190.22M900.5 161.21V179.49M901.5 167.82V177.9M902.5 167.82V179.65M903.5 167.08V181.89M904.5 165.38V177.87M905.5 165.92V179.11M906.5 162.06V177.18M907.5 166.18V178.48M908.5 167.82V177.18M909.5 162.07V183.16M910.5 167.82V179.54M911.5 164.33V180.4M912.5 162.76V178.7M913.5 163.98V180.34M914.5 166.81V179.28M915.5 164.21V179.91M916.5 166.23V177.18M917.5 166.86V180.12M918.5 165.07V178.12M919.5 166V177.8M920.5 167.82V177.18M921.5 163.86V181.71M922.5 163.05V177.18M923.5 165.02V179.83M924.5 167.82V180.88M925.5 166.11V177.18M926.5 164.13V177.96M927.5 166.59V177.18M928.5 167.69V175.74M929.5 165.81V177.75M930.5 168.35V177.14M931.5 166.14V178.49M932.5 167.53V178.69M933.5 167.57V176.11M934.5 166.31V175.84M935.5 168.87V178.34M936.5 168.29V178.05M937.5 165.9V175.74M938.5 169.17V176.4M939.5 167.81V175.74M940.5 167.23V176.45M941.5 167.3V176.87M942.5 166.56V178.37M943.5 166.67V177.68M944.5 169.26V177.54M945.5 169.26V175.74M946.5 166.96V176.6M947.5 166.56V175.74M948.5 166.84V177.75M949.5 167.99V176.93M950.5 169.26V177.74M951.5 169.1V178.71M952.5 168.87V175.74M953.5 167.91V180.09M954.5 167.61V176.79M955.5 167.78V180.09M956.5 167.73V176.23M957.5 166.8V175.74M958.5 166.71V175.74M959.5 166.16V177.59M960.5 168.54V178.09M961.5 165.81V175.74M962.5 166.56V175.74M963.5 167.05V180.56M964.5 160.47V180.26M965.5 163.42V180.26M966.5 162.03V178.62M967.5 166.38V188M968.5 157V178.46M969.5 167.99V176.1M970.5 166.67V178.39M971.5 166V177.91M972.5 163.65V182.13M973.5 166.63V179.78M974.5 162.54V181.38M975.5 164V179.22M976.5 163.01V179.6M977.5 168.77V176.64M978.5 169.26V175.52M979.5 166.72V175.52M980.5 168.36V175.98M981.5 165.74V177.11M982.5 167.12V178.77M983.5 167.06V187.5M984.5 167.57V177.11M985.5 169.48V176.78M986.5 168.85V177.01M987.5 169.34V175.52M988.5 169.48V178.09M989.5 169.34V175.52M990.5 166.39V175.52M991.5 168.83V176.34M992.5 165.53V175.52M993.5 168.62V175.52M994.5 169.48V178.73M995.5 167.19V176.03M996.5 169.48V175.52M997.5 169.48V176.32M998.5 167.79V175.71M999.5 167.81V176.19M1000.5 168.24V177.28M1001.5 168.43V177.63M1002.5 168.3V175.52M1003.5 168.17V177.38M1004.5 169.48V178.98M1005.5 167.62V176.41M1006.5 168.2V175.85M1007.5 167.8V176.33M1008.5 167.22V178.64M1009.5 169.48V176.75M1010.5 162.96V184.44M1011.5 165.64V189M1012.5 166.02V179.55M1013.5 164.31V178.98M1014.5 168.9V176.95M1015.5 168.06V176.1M1016.5 166.68V176.41M1017.5 167.7V176.73M1018.5 168.56V178.16M1019.5 168.62V177.79M1020.5 166.36V177.64M1021.5 166.99V178.51M1022.5 166.53V176.56M1023.5 164.32V176.1M1024.5 165.82V180.55M1025.5 160.81V181.05M1026.5 161.21V182.73M1027.5 163.78V186.64M1028.5 153V177.65M1029.5 169.26V175.74M1030.5 165.48V177.88M1031.5 167.94V177.35M1032.5 166.2V177.77M1033.5 164.4V178.16M1034.5 168.79V175.77M1035.5 167.7V176.51M1036.5 167.64V177.48M1037.5 167.81V175.74M1038.5 166.19V176.71M1039.5 169.26V176.49M1040.5 169.26V175.74M1041.5 168.79V177.15M1042.5 169.26V177.33M1043.5 166.19V176.6M1044.5 168.18V181.02M1045.5 168.18V178.76M1046.5 165.31V179.21M1047.5 147.65V184.02M1048.5 155.44V190.46M1049.5 152.71V194.4M1050.5 136V225M1051.5 156.22V186.47M1052.5 158.87V188.84M1053.5 164.76V196M1054.5 163.05V179.86M1055.5 160.54V184.33M1056.5 164.36V182.73M1057.5 165.3V182.9M1058.5 165.3V183.92M1059.5 165.3V180.45M1060.5 162.63V179.7M1061.5 164.59V182.92M1062.5 165.3V181.97M1063.5 162.91V184.22M1064.5 163.16V188.62M1065.5 167.47V176.65M1066.5 164.35V179.11M1067.5 168.54V178.97M1068.5 166.78V178.59M1069.5 168.54V179.28M1070.5 166.14V179.41M1071.5 165.55V176.46M1072.5 165.46V177.14M1073.5 167.01V178.07M1074.5 167.02V176.46M1075.5 167.91V179.56M1076.5 168.54V177.39M1077.5 163.86V176.46M1078.5 166.82V177.25M1079.5 166.67V179.29M1080.5 166.85V178.51M1081.5 168.54V178.52M1082.5 163.76V180.87M1083.5 165.5V181.85M1084.5 158.76V187.9M1085.5 163.99V183.65M1086.5 164.29V184.07M1087.5 162.37V182.81M1088.5 166.02V188.7M1089.5 163.38V182.62M1090.5 159.97V181.73M1091.5 162.71V179.39M1092.5 163.28V181.93M1093.5 165.28V179.36M1094.5 164.22V184.26M1095.5 160.87V182.25M1096.5 161.13V180.32M1097.5 163.48V178.98M1098.5 151V181.63M1099.5 165.18V186.21M1100.5 168.9V177.12M1101.5 168.24V177.24M1102.5 165.83V181.5M1103.5 168.51V177.67M1104.5 168.9V179.17M1105.5 163.5V176.1M1106.5 167.2V176.1M1107.5 168.53V179.27M1108.5 168.27V176.53M1109.5 165.99V177.49M1110.5 166.72V178.34M1111.5 165.5V176.19M1112.5 168.9V176.68M1113.5 168.54V176.96M1114.5 168.9V178.81M1115.5 166.42V176.88M1116.5 168.24V176.27M1117.5 168.16V176.62M1118.5 164.73V179.35M1119.5 167.33V178.13M1120.5 168.71V178.16M1121.5 168.23V181.44M1122.5 168.9V178.47M1123.5 167.99V176.1M1124.5 168.9V177.46M1125.5 167.27V178.15M1126.5 168.26V178.07M1127.5 168.9V177.73M1128.5 165.83V176.12M1129.5 165.63V176.83M1130.5 167.16V179.34M1131.5 168.59V176.41M1132.5 167.91V177.4M1133.5 166.72V176.1M1134.5 165.23V177.99M1135.5 166.3V176.17M1136.5 163.72V180.57M1137.5 167.24V178.84M1138.5 166.45V178.05M1139.5 165.65V178.03M1140.5 167.46V181.03M1141.5 156.73V190M1142.5 136V197.5M1143.5 167V178.05M1144.5 168.9V177.23M1145.5 164.97V177.72M1146.5 164.32V176.86M1147.5 165.77V176.83" stroke="#FFFF00" stroke-width="1"/>
<rect x="665.5" y="65.5" width="501" height="253" fill="none" stroke="#000"/>
<path d="M683.5 318.5H1136.25" stroke="#000" stroke-width="1"/>
<path d="M683.5 318.5v8.5M774.05 318.5v8.5M864.6 318.5v8.5M955.15 318.5v8.5M1045.7 318.5v8.5M1136.25 318.5v8.5" stroke="#000"/>
<text x="683.5" y="348" font-size="13.6" text-anchor="middle" textLength="28" lengthAdjust="spacingAndGlyphs">2000</text>
<text x="774.05" y="348" font-size="13.6" text-anchor="middle" textLength="28" lengthAdjust="spacingAndGlyphs">2005</text>
<text x="864.6" y="348" font-size="13.6" text-anchor="middle" textLength="28" lengthAdjust="spacingAndGlyphs">2010</text>
<text x="955.15" y="348" font-size="13.6" text-anchor="middle" textLength="28" lengthAdjust="spacingAndGlyphs">2015</text>
<text x="1045.7" y="348" font-size="13.6" text-anchor="middle" textLength="28" lengthAdjust="spacingAndGlyphs">2020</text>
<text x="1136.25" y="348" font-size="13.6" text-anchor="middle" textLength="28" lengthAdjust="spacingAndGlyphs">2025</text>
<path d="M665.5 92.5h-8.5M665.5 132.5h-8.5M665.5 172.5h-8.5M665.5 212.5h-8.5M665.5 252.5h-8.5M665.5 292.5h-8.5" stroke="#000"/>
<text x="647" y="92.5" font-size="13.6" text-anchor="middle" transform="rotate(-90 647 92.5)" textLength="18" lengthAdjust="spacingAndGlyphs">0.2</text>
<text x="647" y="132.5" font-size="13.6" text-anchor="middle" transform="rotate(-90 647 132.5)" textLength="18" lengthAdjust="spacingAndGlyphs">0.1</text>
<text x="647" y="172.5" font-size="13.6" text-anchor="middle" transform="rotate(-90 647 172.5)" textLength="18" lengthAdjust="spacingAndGlyphs">0.0</text>
<text x="647" y="212.5" font-size="13.6" text-anchor="middle" transform="rotate(-90 647 212.5)" textLength="22.31" lengthAdjust="spacingAndGlyphs">-0.1</text>
<text x="647" y="252.5" font-size="13.6" text-anchor="middle" transform="rotate(-90 647 252.5)" textLength="22.31" lengthAdjust="spacingAndGlyphs">-0.2</text>
<text x="647" y="292.5" font-size="13.6" text-anchor="middle" transform="rotate(-90 647 292.5)" textLength="22.31" lengthAdjust="spacingAndGlyphs">-0.3</text>
<text x="914.7" y="40" font-size="16" text-anchor="middle" font-weight="bold" textLength="328.1" lengthAdjust="spacingAndGlyphs">RFI versus S&amp;P500 stock return time-series</text>
<rect x="1002.5" y="65.5" width="164" height="48" fill="#fff" stroke="#000"/>
<path d="M1014 81H1039" stroke="#0000FF" stroke-width="2"/>
<path d="M1014 97.5H1039" stroke="#FFFF00" stroke-width="1"/>
<text x="1050.2" y="86.7" font-size="13.6" text-anchor="start" textLength="92.5" lengthAdjust="spacingAndGlyphs">RFI stock return</text>
<text x="1050.2" y="102.6" font-size="13.6" text-anchor="start" textLength="109.2" lengthAdjust="spacingAndGlyphs">GSPC stock return</text>
<path d="M81 708.95L81.5 708.95L82 708.95L82.5 708.95L83 708.95L83.5 708.95L84 708.95L84.5 708.95L85 708.95L85.5 708.95L86 708.95L86.5 708.95L87 708.95L87.5 708.95L88 708.95L88.5 708.95L89 708.95L89.5 708.95L90 708.95L90.5 708.95L91 708.95L91.5 708.95L92 708.95L92.5 708.95L93 708.95L93.5 708.95L94 708.95L94.5 708.95L95 708.95L95.5 708.95L96 708.95L96.5 708.95L97 708.95L97.5 708.95L98 708.94L98.5 708.94L99 708.94L99.5 708.94L100 708.94L100.5 708.94L101 708.94L101.5 708.94L102 708.94L102.5 708.94L103 708.94L103.5 708.94L104 708.94L104.5 708.94L105 708.94L105.5 708.94L106 708.94L106.5 708.94L107 708.94L107.5 708.94L108 708.94L108.5 708.94L109 708.94L109.5 708.94L110 708.94L110.5 708.94L111 708.94L111.5 708.94L112 708.94L112.5 708.94L113 708.94L113.5 708.94L114 708.94L114.5 708.94L115 708.94L115.5 708.93L116 708.93L116.5 708.93L117 708.93L117.5 708.93L118 708.93L118.5 708.93L119 708.93L119.5 708.93L120 708.93L120.5 708.93L121 708.93L121.5 708.93L122 708.93L122.5 708.93L123 708.93L123.5 708.93L124 708.93L124.5 708.93L125 708.93L125.5 708.93L126 708.93L126.5 708.93L127 708.93L127.5 708.93L128 708.93L128.5 708.93L129 708.93L129.5 708.93L130 708.93L130.5 708.93L131 708.93L131.5 708.92L132 708.92L132.5 708.92L133 708.92L133.5 708.92L134 708.92L134.5 708.92L135 708.92L135.5 708.92L136 708.92L136.5 708.92L137 708.92L137.5 708.92L138 708.92L138.5 708.92L139 708.92L139.5 708.92L140 708.92L140.5 708.92L141 708.92L141.5 708.92L142 708.92L142.5 708.92L143 708.92L143.5 708.92L144 708.92L144.5 708.92L145 708.92L145.5 708.92L146 708.92L146.5 708.92L147 708.91L147.5 708.91L148 708.91L148.5 708.91L149 708.91L149.5 708.91L150 708.91L150.5 708.91L151 708.91L151.5 708.91L152 708.91L152.5 708.91L153 708.91L153.5 708.91L154 708.91L154.5 708.91L155 708.91L155.5 708.91L156 708.91L156.5 708.91L157 708.91L157.5 708.91L158 708.91L158.5 708.91L159 708.91L159.5 708.91L160 708.91L160.5 708.91L161 708.91L161.5 708.9L162 708.9L162.5 708.9L163 708.9L163.5 708.9L164 708.9L164.5 708.9L165 708.9L165.5 708.9L166 708.9L166.5 708.9L167 708.9L167.5 708.9L168 708.9L168.5 708.9L169 708.9L169.5 708.9L170 708.9L170.5 708.9L171 708.9L171.5 708.9L172 708.9L172.5 708.9L173 708.9L173.5 708.9L174 708.9L174.5 708.9L175 708.89L175.5 708.89L176 708.89L176.5 708.89L177 708.89L177.5 708.89L178 708.89L178.5 708.89L179 708.89L179.5 708.89L180 708.89L180.5 708.89L181 708.89L181.5 708.89L182 708.89L182.5 708.89L183 708.89L183.5 708.89L184 708.89L184.5 708.89L185 708.89L185.5 708.89L186 708.89L186.5 708.89L187 708.89L187.5 708.89L188 708.88L188.5 708.88L189 708.88L189.5 708.88L190 708.88L190.5 708.88L191 708.88L191.5 708.88L192 708.88L192.5 708.88L193 708.88L193.5 708.88L194 708.88L194.5 708.88L195 708.88L195.5 708.88L196 708.88L196.5 708.88L197 708.88L197.5 708.88L198 708.88L198.5 708.88L199 708.87L199.5 708.87L200 708.87L200.5 708.87L201 708.87L201.5 708.87L202 708.87L202.5 708.87L203 708.87L203.5 708.87L204 708.87L204.5 708.87L205 708.87L205.5 708.87L206 708.87L206.5 708.87L207 708.86L207.5 708.86L208 708.86L208.5 708.86L209 708.86L209.5 708.86L210 708.86L210.5 708.86L211 708.86L211.5 708.86L212 708.86L212.5 708.86L213 708.86L213.5 708.86L214 708.86L214.5 708.85L215 708.85L215.5 708.85L216 708.85L216.5 708.85L217 708.85L217.5 708.85L218 708.85L218.5 708.85L219 708.85L219.5 708.85L220 708.85L220.5 708.85L221 708.85L221.5 708.85L222 708.84L222.5 708.84L223 708.84L223.5 708.84L224 708.84L224.5 708.84L225 708.84L225.5 708.84L226 708.84L226.5 708.84L227 708.84L227.5 708.84L228 708.84L228.5 708.84L229 708.83L229.5 708.83L230 708.83L230.5 708.83L231 708.83L231.5 708.83L232 708.83L232.5 708.83L233 708.83L233.5 708.83L234 708.83L234.5 708.83L235 708.83L235.5 708.82L236 708.82L236.5 708.82L237 708.82L237.5 708.82L238 708.82L238.5 708.82L239 708.82L239.5 708.82L240 708.82L240.5 708.82L241 708.82L241.5 708.82L242 708.81L242.5 708.81L243 708.81L243.5 708.81L244 708.81L244.5 708.81L245 708.81L245.5 708.81L246 708.81L246.5 708.81L247 708.81L247.5 708.81L248 708.8L248.5 708.8L249 708.8L249.5 708.8L250 708.8L250.5 708.8L251 708.8L251.5 708.8L252 708.8L252.5 708.8L253 708.8L253.5 708.8L254 708.79L254.5 708.79L255 708.79L255.5 708.79L256 708.79L256.5 708.79L257 708.79L257.5 708.79L258 708.79L258.5 708.79L259 708.79L259.5 708.79L260 708.78L260.5 708.78L261 708.78L261.5 708.78L262 708.78L262.5 708.78L263 708.78L263.5 708.78L264 708.78L264.5 708.78L265 708.78L265.5 708.77L266 708.77L266.5 708.77L267 708.77L267.5 708.77L268 708.77L268.5 708.77L269 708.77L269.5 708.76L270 708.76L270.5 708.75L271 708.73L271.5 708.7L272 708.64L272.5 708.56L273 708.44L273.5 708.3L274 708.14L274.5 708L275 707.9L275.5 707.86L276 707.89L276.5 707.99L277 708.13L277.5 708.28L278 708.42L278.5 708.53L279 708.61L279.5 708.66L280 708.69L280.5 708.7L281 708.71L281.5 708.71L282 708.7L282.5 708.7L283 708.7L283.5 708.69L284 708.69L284.5 708.68L285 708.68L285.5 708.67L286 708.67L286.5 708.66L287 708.65L287.5 708.64L288 708.62L288.5 708.59L289 708.54L289.5 708.48L290 708.39L290.5 708.3L291 708.22L291.5 708.15L292 708.12L292.5 708.13L293 708.17L293.5 708.24L294 708.32L294.5 708.4L295 708.46L295.5 708.5L296 708.53L296.5 708.54L297 708.55L297.5 708.54L298 708.54L298.5 708.54L299 708.53L299.5 708.52L300 708.52L300.5 708.51L301 708.51L301.5 708.5L302 708.49L302.5 708.49L303 708.48L303.5 708.47L304 708.47L304.5 708.46L305 708.45L305.5 708.44L306 708.44L306.5 708.43L307 708.39L307.5 708.35L308 708.31L308.5 708.26L309 708.21L309.5 708.16L310 708.11L310.5 708.05L311 707.99L311.5 707.93L312 707.86L312.5 707.79L313 707.71L313.5 707.63L314 707.55L314.5 707.46L315 707.36L315.5 707.26L316 707.16L316.5 707.04L317 706.93L317.5 706.8L318 706.67L318.5 706.52L319 706.38L319.5 706.22L320 706.05L320.5 705.87L321 705.68L321.5 705.49L322 705.28L322.5 705.05L323 704.82L323.5 704.57L324 704.3L324.5 704.02L325 703.73L325.5 703.48L326 703.22L326.5 702.95L327 702.66L327.5 702.37L328 702.05L328.5 701.73L329 701.39L329.5 701.03L330 700.66L330.5 700.27L331 699.86L331.5 699.44L332 698.99L332.5 698.52L333 698.03L333.5 697.52L334 696.99L334.5 696.43L335 695.84L335.5 695.1L336 694.2L336.5 693.25L337 692.23L337.5 691.15L338 690L338.5 688.77L339 687.47L339.5 685.13L340 682.49L340.5 679.57L341 676.32L341.5 672.72L342 669.3L342.5 665.98L343 662.39L343.5 658.5L344 654.28L344.5 649.71L345 644.77L345.5 639.41L346 635.01L346.5 630.59L347 625.9L347.5 620.93L348 615.66L348.5 610.09L349 604.73L349.5 600.04L350 594.75L350.5 588.97L351 582.9L351.5 576.52L352 569.66L352.5 562.43L353 554.81L353.5 548.29L354 542.86L354.5 537.25L355 542.86L355.5 548.29L356 554.81L356.5 562.43L357 569.66L357.5 576.52L358 582.9L358.5 588.97L359 594.75L359.5 600.04L360 604.73L360.5 610.09L361 615.66L361.5 620.93L362 625.9L362.5 630.59L363 635.01L363.5 639.41L364 644.77L364.5 649.71L365 654.28L365.5 658.5L366 662.39L366.5 665.98L367 669.3L367.5 672.72L368 676.32L368.5 679.57L369 682.49L369.5 685.13L370 687.47L370.5 688.77L371 690L371.5 691.15L372 692.23L372.5 693.25L373 694.2L373.5 695.1L374 695.84L374.5 696.43L375 696.99L375.5 697.52L376 698.03L376.5 698.52L377 698.99L377.5 699.44L378 699.86L378.5 700.27L379 700.66L379.5 701.03L380 701.39L380.5 701.73L381 702.05L381.5 702.37L382 702.66L382.5 702.95L383 703.22L383.5 703.48L384 703.73L384.5 704.02L385 704.3L385.5 704.57L386 704.82L386.5 705.05L387 705.28L387.5 705.49L388 705.68L388.5 705.87L389 706.05L389.5 706.22L390 706.38L390.5 706.52L391 706.67L391.5 706.8L392 706.93L392.5 707.04L393 707.16L393.5 707.26L394 707.36L394.5 707.46L395 707.55L395.5 707.63L396 707.71L396.5 707.79L397 707.86L397.5 707.93L398 707.99L398.5 708.05L399 708.11L399.5 708.16L400 708.21L400.5 708.26L401 708.31L401.5 708.35L402 708.39L402.5 708.43L403 708.44L403.5 708.44L404 708.45L404.5 708.46L405 708.47L405.5 708.47L406 708.48L406.5 708.49L407 708.49L407.5 708.5L408 708.51L408.5 708.51L409 708.52L409.5 708.52L410 708.53L410.5 708.54L411 708.54L411.5 708.55L412 708.55L412.5 708.56L413 708.57L413.5 708.57L414 708.58L414.5 708.58L415 708.59L415.5 708.59L416 708.6L416.5 708.61L417 708.61L417.5 708.62L418 708.62L418.5 708.63L419 708.63L419.5 708.64L420 708.64L420.5 708.65L421 708.65L421.5 708.65L422 708.66L422.5 708.66L423 708.65L423.5 708.64L424 708.61L424.5 708.56L425 708.48L425.5 708.37L426 708.23L426.5 708.07L427 707.94L427.5 707.85L428 707.82L428.5 707.86L429 707.97L429.5 708.12L430 708.28L430.5 708.42L431 708.54L431.5 708.63L432 708.68L432.5 708.72L433 708.74L433.5 708.75L434 708.75L434.5 708.76L435 708.76L435.5 708.76L436 708.76L436.5 708.76L437 708.76L437.5 708.76L438 708.76L438.5 708.77L439 708.77L439.5 708.77L440 708.77L440.5 708.77L441 708.77L441.5 708.77L442 708.77L442.5 708.77L443 708.76L443.5 708.75L444 708.73L444.5 708.7L445 708.66L445.5 708.6L446 708.53L446.5 708.46L447 708.41L447.5 708.38L448 708.38L448.5 708.42L449 708.47L449.5 708.54L450 708.61L450.5 708.67L451 708.72L451.5 708.75L452 708.77L452.5 708.78L453 708.79L453.5 708.79L454 708.79L454.5 708.79L455 708.79L455.5 708.8L456 708.8L456.5 708.8L457 708.8L457.5 708.8L458 708.8L458.5 708.8L459 708.8L459.5 708.8L460 708.8L460.5 708.8L461 708.8L461.5 708.81L462 708.81L462.5 708.81L463 708.81L463.5 708.81L464 708.81L464.5 708.81L465 708.81L465.5 708.81L466 708.81L466.5 708.81L467 708.81L467.5 708.82L468 708.82L468.5 708.82L469 708.82L469.5 708.82L470 708.82L470.5 708.82L471 708.82L471.5 708.82L472 708.82L472.5 708.82L473 708.82L473.5 708.82L474 708.83L474.5 708.83L475 708.83L475.5 708.83L476 708.83L476.5 708.83L477 708.83L477.5 708.83L478 708.83L478.5 708.83L479 708.83L479.5 708.83L480 708.83L480.5 708.84L481 708.84L481.5 708.84L482 708.84L482.5 708.84L483 708.84L483.5 708.84L484 708.84L484.5 708.84L485 708.84L485.5 708.84L486 708.84L486.5 708.84L487 708.84L487.5 708.85L488 708.85L488.5 708.85L489 708.85L489.5 708.85L490 708.85L490.5 708.85L491 708.85L491.5 708.85L492 708.85L492.5 708.85L493 708.85L493.5 708.85L494 708.85L494.5 708.85L495 708.86L495.5 708.86L496 708.86L496.5 708.86L497 708.86L497.5 708.86L498 708.86L498.5 708.86L499 708.86L499.5 708.86L500 708.86L500.5 708.86L501 708.86L501.5 708.86L502 708.86L502.5 708.87L503 708.87L503.5 708.87L504 708.87L504.5 708.87L505 708.87L505.5 708.87L506 708.87L506.5 708.87L507 708.87L507.5 708.87L508 708.87L508.5 708.87L509 708.87L509.5 708.87L510 708.87L510.5 708.88L511 708.88L511.5 708.88L512 708.88L512.5 708.88L513 708.88L513.5 708.88L514 708.88L514.5 708.88L515 708.88L515.5 708.88L516 708.88L516.5 708.88L517 708.88L517.5 708.88L518 708.88L518.5 708.88L519 708.88L519.5 708.88L520 708.88L520.5 708.88L521 708.88L521.5 708.89L522 708.89L522.5 708.89L523 708.89L523.5 708.89L524 708.89L524.5 708.89L525 708.89L525.5 708.89L526 708.89L526.5 708.89L527 708.89L527.5 708.89L528 708.89L528.5 708.89L529 708.89L529.5 708.89L530 708.89L530.5 708.89L531 708.89L531.5 708.89L532 708.89L532.5 708.89L533 708.89L533.5 708.89L534 708.89L534.5 708.9L535 708.9L535.5 708.9L536 708.9L536.5 708.9L537 708.9L537.5 708.9L538 708.9L538.5 708.9L539 708.9L539.5 708.9L540 708.9L540.5 708.9L541 708.9L541.5 708.9L542 708.9L542.5 708.9L543 708.9L543.5 708.9L544 708.9L544.5 708.9L545 708.9L545.5 708.9L546 708.9L546.5 708.9L547 708.9L547.5 708.9L548 708.91L548.5 708.91L549 708.91L549.5 708.91L550 708.91L550.5 708.91L551 708.91L551.5 708.91L552 708.91" fill="none" stroke="#228B22" stroke-width="2"/>
<path d="M279 709.16L279.5 709.15L280 709.14L280.5 709.13L281 709.13L281.5 709.12L282 709.11L282.5 709.1L283 709.09L283.5 709.09L284 709.08L284.5 709.07L285 709.06L285.5 709.05L286 709.04L286.5 709.03L287 709.02L287.5 709.01L288 709L288.5 708.99L289 708.98L289.5 708.97L290 708.96L290.5 708.95L291 708.94L291.5 708.92L292 708.91L292.5 708.9L293 708.88L293.5 708.87L294 708.86L294.5 708.84L295 708.83L295.5 708.81L296 708.79L296.5 708.78L297 708.76L297.5 708.75L298 708.73L298.5 708.71L299 708.69L299.5 708.68L300 708.66L300.5 708.64L301 708.62L301.5 708.6L302 708.58L302.5 708.56L303 708.54L303.5 708.52L304 708.49L304.5 708.47L305 708.45L305.5 708.43L306 708.4L306.5 708.38L307 708.35L307.5 708.33L308 708.3L308.5 708.28L309 708.25L309.5 708.22L310 708.2L310.5 708.17L311 708.14L311.5 708.11L312 708.08L312.5 708.05L313 708.02L313.5 707.99L314 707.95L314.5 707.92L315 707.89L315.5 707.85L316 707.82L316.5 707.78L317 707.75L317.5 707.71L318 707.67L318.5 707.63L319 707.59L319.5 707.55L320 707.51L320.5 707.47L321 707.36L321.5 707.25L322 707.12L322.5 707L323 706.86L323.5 706.72L324 706.57L324.5 706.42L325 706.25L325.5 706.08L326 705.9L326.5 705.7L327 705.5L327.5 705.29L328 705.07L328.5 704.83L329 704.59L329.5 704.33L330 704.05L330.5 703.71L331 703.35L331.5 702.97L332 702.57L332.5 702.14L333 701.68L333.5 701.2L334 700.69L334.5 700.14L335 699.56L335.5 698.95L336 698.3L336.5 697.61L337 696.87L337.5 696.09L338 694.83L338.5 693.43L339 691.91L339.5 690.23L340 688.4L340.5 686.04L341 683.27L341.5 680.19L342 676.74L342.5 672.89L343 669.26L343.5 665.59L344 661.58L344.5 657.21L345 652.44L345.5 647.24L346 641.56L346.5 636.2L347 631.02L347.5 625.49L348 619.56L348.5 613.21L349 606.42L349.5 599.14L350 591.62L350.5 583.6L351 574.54L351.5 560.45L352 544.9L352.5 526.37L353 505.23L353.5 496.18L354 488.21L354.5 479.95L355 488.21L355.5 496.18L356 505.23L356.5 526.37L357 544.9L357.5 560.45L358 574.54L358.5 583.6L359 591.62L359.5 599.14L360 606.42L360.5 613.21L361 619.56L361.5 625.49L362 631.02L362.5 636.2L363 641.56L363.5 647.24L364 652.44L364.5 657.21L365 661.58L365.5 665.59L366 669.26L366.5 672.89L367 676.74L367.5 680.19L368 683.27L368.5 686.04L369 688.4L369.5 690.23L370 691.91L370.5 693.43L371 694.83L371.5 696.09L372 696.87L372.5 697.61L373 698.3L373.5 698.95L374 699.56L374.5 700.14L375 700.69L375.5 701.2L376 701.68L376.5 702.14L377 702.57L377.5 702.97L378 703.35L378.5 703.71L379 704.05L379.5 704.33L380 704.59L380.5 704.83L381 705.07L381.5 705.29L382 705.5L382.5 705.7L383 705.9L383.5 706.08L384 706.25L384.5 706.42L385 706.57L385.5 706.72L386 706.86L386.5 707L387 707.12L387.5 707.25L388 707.36L388.5 707.47L389 707.51L389.5 707.55L390 707.59L390.5 707.63L391 707.67L391.5 707.71L392 707.75L392.5 707.78L393 707.82L393.5 707.85L394 707.89L394.5 707.92L395 707.95L395.5 707.99L396 708.02L396.5 708.05L397 708.08L397.5 708.11L398 708.14L398.5 708.17L399 708.2L399.5 708.22L400 708.25L400.5 708.28L401 708.3L401.5 708.33L402 708.35L402.5 708.38L403 708.4L403.5 708.43L404 708.45L404.5 708.47L405 708.49L405.5 708.52L406 708.54L406.5 708.56L407 708.58L407.5 708.6L408 708.62L408.5 708.64L409 708.66L409.5 708.68L410 708.69L410.5 708.71L411 708.73L411.5 708.75L412 708.76L412.5 708.78L413 708.79L413.5 708.81L414 708.83L414.5 708.84L415 708.86L415.5 708.87L416 708.88L416.5 708.9L417 708.91L417.5 708.92L418 708.94L418.5 708.95L419 708.96L419.5 708.97L420 708.98L420.5 708.99L421 709L421.5 709.01L422 709.02L422.5 709.03L423 709.04L423.5 709.05L424 709.06L424.5 709.07L425 709.08L425.5 709.09L426 709.09L426.5 709.1L427 709.11L427.5 709.12L428 709.13" fill="none" stroke="#FFA500" stroke-width="1"/>
<path d="M65 709.5H567" stroke="#BEBEBE"/>
<rect x="65.5" y="465.5" width="501" height="253" fill="none" stroke="#000"/>
<path d="M65 709.5h1M566 709.5h1" stroke="#BEBEBE"/>
<path d="M117.5 718.5H512.5" stroke="#000" stroke-width="1"/>
<path d="M117.5 718.5v8.5M196.5 718.5v8.5M275.5 718.5v8.5M354.5 718.5v8.5M433.5 718.5v8.5M512.5 718.5v8.5" stroke="#000"/>
<text x="117.5" y="748" font-size="13.6" text-anchor="middle" textLength="22.31" lengthAdjust="spacingAndGlyphs">-0.3</text>
<text x="196.5" y="748" font-size="13.6" text-anchor="middle" textLength="22.31" lengthAdjust="spacingAndGlyphs">-0.2</text>
<text x="275.5" y="748" font-size="13.6" text-anchor="middle" textLength="22.31" lengthAdjust="spacingAndGlyphs">-0.1</text>
<text x="354.5" y="748" font-size="13.6" text-anchor="middle" textLength="18" lengthAdjust="spacingAndGlyphs">0.0</text>
<text x="433.5" y="748" font-size="13.6" text-anchor="middle" textLength="18" lengthAdjust="spacingAndGlyphs">0.1</text>
<text x="512.5" y="748" font-size="13.6" text-anchor="middle" textLength="18" lengthAdjust="spacingAndGlyphs">0.2</text>
<path d="M65.5 709.5h-8.5M65.5 668.8h-8.5M65.5 628.1h-8.5M65.5 587.4h-8.5M65.5 546.7h-8.5M65.5 506h-8.5M65.5 465.3h-8.5" stroke="#000"/>
<text x="47" y="709.5" font-size="13.6" text-anchor="middle" transform="rotate(-90 47 709.5)" textLength="7.2" lengthAdjust="spacingAndGlyphs">0</text>
<text x="47" y="668.8" font-size="13.6" text-anchor="middle" transform="rotate(-90 47 668.8)" textLength="14.4" lengthAdjust="spacingAndGlyphs">10</text>
<text x="47" y="628.1" font-size="13.6" text-anchor="middle" transform="rotate(-90 47 628.1)" textLength="14.4" lengthAdjust="spacingAndGlyphs">20</text>
<text x="47" y="587.4" font-size="13.6" text-anchor="middle" transform="rotate(-90 47 587.4)" textLength="14.4" lengthAdjust="spacingAndGlyphs">30</text>
<text x="47" y="546.7" font-size="13.6" text-anchor="middle" transform="rotate(-90 47 546.7)" textLength="14.4" lengthAdjust="spacingAndGlyphs">40</text>
<text x="47" y="506" font-size="13.6" text-anchor="middle" transform="rotate(-90 47 506)" textLength="14.4" lengthAdjust="spacingAndGlyphs">50</text>
<text x="47" y="465.3" font-size="13.6" text-anchor="middle" transform="rotate(-90 47 465.3)" textLength="14.4" lengthAdjust="spacingAndGlyphs">60</text>
<text x="314.7" y="440" font-size="16" text-anchor="middle" font-weight="bold" textLength="332.5" lengthAdjust="spacingAndGlyphs">RFI versus S&amp;P500 stock return distribution</text>
<rect x="65.5" y="465.5" width="195" height="48" fill="#fff" stroke="#000"/>
<path d="M77 481H102" stroke="#228B22" stroke-width="2"/>
<path d="M77 497.5H102" stroke="#FFA500" stroke-width="1"/>
<text x="113.3" y="486.6" font-size="13.6" text-anchor="start" textLength="123.5" lengthAdjust="spacingAndGlyphs">RFI return distribution</text>
<text x="113.3" y="502.9" font-size="13.6" text-anchor="start" textLength="140.2" lengthAdjust="spacingAndGlyphs">GSPC return distribution</text>
<clipPath id="c4"><rect x="665.5" y="465.5" width="501" height="253"/></clipPath>
<g clip-path="url(#c4)">
<path d="M684 716.5H690" stroke="#000" stroke-width="1"/>
<path d="M689 716.5H695" stroke="#000" stroke-width="1"/>
<path d="M699 716.5H705" stroke="#000" stroke-width="1"/>
<path d="M704 716.5H711" stroke="#000" stroke-width="1"/>
<path d="M715 716.5H721" stroke="#000" stroke-width="1"/>
<path d="M720 716.5H726" stroke="#000" stroke-width="1"/>
<path d="M731 716.5H737" stroke="#000" stroke-width="1"/>
<path d="M736 716.5H742" stroke="#000" stroke-width="1"/>
<path d="M746 716.5H752" stroke="#000" stroke-width="1"/>
<path d="M751 716.5H758" stroke="#000" stroke-width="1"/>
<path d="M762 716.5H768" stroke="#000" stroke-width="1"/>
<path d="M767 716.5H773" stroke="#000" stroke-width="1"/>
<path d="M777 716.5H784" stroke="#000" stroke-width="1"/>
<path d="M783 716.5H789" stroke="#000" stroke-width="1"/>
<path d="M793 716.5H799" stroke="#000" stroke-width="1"/>
<path d="M798 716.5H804" stroke="#000" stroke-width="1"/>
<path d="M809 716.5H815" stroke="#000" stroke-width="1"/>
<path d="M814 716.5H820" stroke="#000" stroke-width="1"/>
<path d="M824 716.5H831" stroke="#000" stroke-width="1"/>
<path d="M830 716.5H836" stroke="#000" stroke-width="1"/>
<path d="M840 716.5H846" stroke="#000" stroke-width="1"/>
<path d="M845 716.5H851" stroke="#000" stroke-width="1"/>
<path d="M856 716.5H862" stroke="#000" stroke-width="1"/>
<path d="M861 716.5H867" stroke="#000" stroke-width="1"/>
<rect x="871.5" y="715.5" width="5" height="1" fill="#0000FF" stroke="#000"/>
<path d="M876 716.5H883" stroke="#000" stroke-width="1"/>
<rect x="887.5" y="715.5" width="5" height="1" fill="#0000FF" stroke="#000"/>
<path d="M892 716.5H898" stroke="#000" stroke-width="1"/>
<rect x="902.5" y="714.5" width="6" height="2" fill="#0000FF" stroke="#000"/>
<rect x="908.5" y="715.5" width="5" height="1" fill="#FFFF00" stroke="#000"/>
<rect x="918.5" y="707.5" width="5" height="9" fill="#0000FF" stroke="#000"/>
<rect x="923.5" y="711.5" width="6" height="5" fill="#FFFF00" stroke="#000"/>
<rect x="934.5" y="665.5" width="5" height="51" fill="#0000FF" stroke="#000"/>
<rect x="939.5" y="671.5" width="5" height="45" fill="#FFFF00" stroke="#000"/>
<rect x="949.5" y="493.5" width="6" height="223" fill="#0000FF" stroke="#000"/>
<rect x="955.5" y="460.5" width="5" height="256" fill="#FFFF00" stroke="#000"/>
<rect x="965.5" y="660.5" width="5" height="56" fill="#0000FF" stroke="#000"/>
<rect x="970.5" y="672.5" width="5" height="44" fill="#FFFF00" stroke="#000"/>
<rect x="981.5" y="710.5" width="5" height="6" fill="#0000FF" stroke="#000"/>
<rect x="986.5" y="712.5" width="5" height="4" fill="#FFFF00" stroke="#000"/>
<rect x="996.5" y="714.5" width="5" height="2" fill="#0000FF" stroke="#000"/>
<rect x="1001.5" y="715.5" width="6" height="1" fill="#FFFF00" stroke="#000"/>
<rect x="1012.5" y="715.5" width="5" height="1" fill="#0000FF" stroke="#000"/>
<path d="M1017 716.5H1023" stroke="#000" stroke-width="1"/>
<rect x="1028.5" y="715.5" width="5" height="1" fill="#0000FF" stroke="#000"/>
<path d="M1033 716.5H1039" stroke="#000" stroke-width="1"/>
<path d="M1043 716.5H1049" stroke="#000" stroke-width="1"/>
<path d="M1048 716.5H1055" stroke="#000" stroke-width="1"/>
<path d="M1059 716.5H1065" stroke="#000" stroke-width="1"/>
<path d="M1064 716.5H1070" stroke="#000" stroke-width="1"/>
<path d="M1074 716.5H1081" stroke="#000" stroke-width="1"/>
<path d="M1080 716.5H1086" stroke="#000" stroke-width="1"/>
<path d="M1090 716.5H1096" stroke="#000" stroke-width="1"/>
<path d="M1095 716.5H1101" stroke="#000" stroke-width="1"/>
<path d="M1106 716.5H1112" stroke="#000" stroke-width="1"/>
<path d="M1111 716.5H1117" stroke="#000" stroke-width="1"/>
<path d="M1121 716.5H1128" stroke="#000" stroke-width="1"/>
<path d="M1127 716.5H1133" stroke="#000" stroke-width="1"/>
<path d="M1137 716.5H1143" stroke="#000" stroke-width="1"/>
<path d="M1142 716.5H1148" stroke="#000" stroke-width="1"/>
</g>
<rect x="665.5" y="465.5" width="501" height="253" fill="none" stroke="#000"/>
<path d="M665.5 716.5h-8.5M665.5 662h-8.5M665.5 607.5h-8.5M665.5 553h-8.5M665.5 498.5h-8.5" stroke="#000"/>
<text x="647" y="716.5" font-size="13.6" text-anchor="middle" transform="rotate(-90 647 716.5)" textLength="7.2" lengthAdjust="spacingAndGlyphs">0</text>
<text x="647" y="662" font-size="13.6" text-anchor="middle" transform="rotate(-90 647 662)" textLength="28.8" lengthAdjust="spacingAndGlyphs">1000</text>
<text x="647" y="607.5" font-size="13.6" text-anchor="middle" transform="rotate(-90 647 607.5)" textLength="28.8" lengthAdjust="spacingAndGlyphs">2000</text>
<text x="647" y="553" font-size="13.6" text-anchor="middle" transform="rotate(-90 647 553)" textLength="28.8" lengthAdjust="spacingAndGlyphs">3000</text>
<text x="647" y="498.5" font-size="13.6" text-anchor="middle" transform="rotate(-90 647 498.5)" textLength="28.8" lengthAdjust="spacingAndGlyphs">4000</text>
<text x="689.36" y="747.5" font-size="13.6" text-anchor="middle" textLength="82.6" lengthAdjust="spacingAndGlyphs">[-0.342,-0.323)</text>
<text x="798.77" y="747.5" font-size="13.6" text-anchor="middle" textLength="82.6" lengthAdjust="spacingAndGlyphs">[-0.205,-0.186)</text>
<text x="908.18" y="747.5" font-size="13.6" text-anchor="middle" textLength="97" lengthAdjust="spacingAndGlyphs">[-0.0682,-0.0486)</text>
<text x="1017.6" y="747.5" font-size="13.6" text-anchor="middle" textLength="82" lengthAdjust="spacingAndGlyphs">[0.069,0.0886)</text>
<text x="1111.38" y="747.5" font-size="13.6" text-anchor="middle" textLength="74.5" lengthAdjust="spacingAndGlyphs">[0.187,0.206)</text>
<text x="915" y="779" font-size="13.6" text-anchor="middle" textLength="33.82" lengthAdjust="spacingAndGlyphs">return</text>
<text x="616" y="592.3" font-size="13.6" text-anchor="middle" transform="rotate(-90 616 592.3)" textLength="56.86" lengthAdjust="spacingAndGlyphs">frequency</text>
<text x="914.7" y="440" font-size="16" text-anchor="middle" font-weight="bold" textLength="367.9" lengthAdjust="spacingAndGlyphs">RFI versus S&amp;P500 return frequency distribution</text>
<rect x="993.5" y="465.5" width="173" height="48" fill="#fff" stroke="#000"/>
<rect x="1005.5" y="477.5" width="9" height="8" fill="#0000FF" stroke="#000"/>
<rect x="1005.5" y="493.5" width="9" height="8" fill="#FFFF00" stroke="#000"/>
<text x="1026.3" y="486.7" font-size="13.6" text-anchor="start" textLength="116.5" lengthAdjust="spacingAndGlyphs">RFI return frequency</text>
<text x="1026.3" y="502.6" font-size="13.6" text-anchor="start" textLength="133.4" lengthAdjust="spacingAndGlyphs">GSPC return frequency</text>
</svg>
</body></html>
